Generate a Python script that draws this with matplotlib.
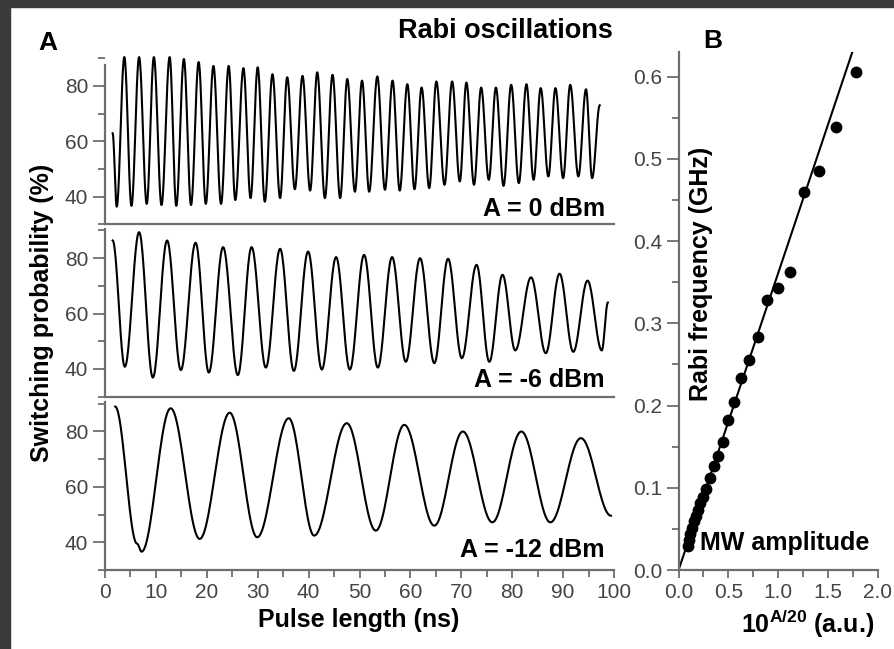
import numpy as np
import matplotlib
matplotlib.use("Agg")
import matplotlib.pyplot as plt
from matplotlib.ticker import MultipleLocator, FormatStrFormatter
from matplotlib.patches import Rectangle

plt.rcParams['font.family'] = ['Liberation Sans', 'DejaVu Sans']
plt.rcParams['mathtext.fontset'] = 'custom'
plt.rcParams['mathtext.rm'] = 'Liberation Sans:bold'
plt.rcParams['mathtext.bf'] = 'Liberation Sans:bold'
plt.rcParams['mathtext.it'] = 'Liberation Sans:bold'

# --- panel A: extrema of the Rabi traces (ns, %) ---
t_0dbm = [1.5, 2.3, 3.8, 5.2, 6.7, 8.2, 9.6, 11.1, 12.7, 14.0, 15.5, 16.9, 18.4,
          19.8, 21.3, 22.8, 24.3, 25.6, 27.2, 28.6, 30.0, 31.4, 32.9, 34.4, 35.8,
          37.3, 38.8, 40.3, 41.7, 43.2, 44.7, 46.2, 47.6, 49.1, 50.5, 51.9, 53.5,
          55.0, 56.5, 57.9, 59.4, 60.8, 62.2, 63.7, 65.1, 66.7, 68.2, 69.7, 71.0,
          72.5, 73.9, 75.4, 76.8, 78.3, 79.8, 81.3, 82.8, 84.2, 85.6, 87.1, 88.5,
          90.0, 91.4, 93.0, 94.5, 95.7, 97.2]
p_0dbm = [62.9, 36.4, 90.4, 36.7, 90.4, 37.4, 90.4, 37.0, 90.4, 36.7, 89.7, 37.0, 88.6,
          37.4, 87.2, 37.4, 87.2, 38.8, 86.4, 39.5, 86.7, 38.2, 84.2, 39.5, 83.1,
          42.7, 83.6, 42.2, 84.9, 39.5, 84.0, 39.5, 82.5, 41.8, 81.9, 41.8, 83.4,
          42.5, 81.9, 42.2, 80.6, 42.7, 79.4, 43.1, 81.6, 44.3, 81.6, 45.5, 81.2,
          44.3, 79.4, 46.1, 79.4, 43.9, 80.4, 44.9, 80.6, 46.1, 79.2, 47.3, 79.2,
          46.7, 80.4, 47.3, 78.8, 46.7, 73.0]

t_6dbm = [1.5, 3.9, 6.7, 9.4, 12.2, 14.9, 17.8, 20.4, 23.2, 26.1, 28.8, 31.6, 34.4,
          37.1, 39.9, 42.6, 45.4, 48.1, 50.9, 53.6, 56.4, 59.1, 61.9, 64.7, 67.4,
          70.1, 73.0, 75.5, 78.1, 80.6, 83.7, 86.6, 89.3, 92.0, 94.8, 97.6, 98.8]
p_6dbm = [86.4, 40.8, 89.4, 36.9, 86.4, 39.6, 85.6, 38.7, 84.0, 37.8, 84.0, 40.5, 83.4,
          39.3, 82.4, 39.8, 80.4, 39.8, 81.2, 40.5, 80.4, 42.6, 80.0, 42.1, 79.8,
          43.9, 77.6, 42.6, 74.0, 46.7, 73.1, 45.7, 74.4, 46.2, 71.9, 46.7, 64.0]

t_12dbm = [2.0, 6.3, 7.2, 12.9, 18.6, 24.5, 29.9, 36.1, 41.1, 47.5, 53.2, 58.8,
           64.7, 70.3, 76.1, 81.8, 87.5, 93.5, 99.4]
p_12dbm = [89.0, 39.5, 36.6, 88.4, 41.2, 86.8, 41.8, 84.8, 42.4, 83.0, 44.2, 82.4,
           46.0, 80.0, 47.2, 80.0, 47.2, 77.6, 49.6]

trace_labels = ['A = 0 dBm', 'A = -6 dBm', 'A = -12 dBm']

# --- panel B: Rabi frequency vs 10^(A/20) ---
amp = [1.778, 1.580, 1.409, 1.258, 1.117, 1.000, 0.889, 0.802, 0.708, 0.627, 0.560,
       0.493, 0.446, 0.396, 0.352, 0.312, 0.279, 0.245, 0.218, 0.195, 0.171, 0.151,
       0.131, 0.117, 0.104, 0.094]
rabi_f = [0.606, 0.539, 0.485, 0.460, 0.362, 0.343, 0.328, 0.284, 0.255, 0.234, 0.204,
          0.182, 0.156, 0.139, 0.127, 0.112, 0.099, 0.089, 0.081, 0.073, 0.066, 0.059,
          0.051, 0.044, 0.036, 0.029]
fit_x = [0.0, 1.745]
fit_y = [0.0, 0.630]

W, H = 895, 649
SPINE = '#6e6e6e'
TICKTXT = '#444444'


def smooth_trace(t_pts, v_pts, n=24):
    # join successive extrema with half-cosine arcs
    ts, vs = [], []
    for i in range(len(t_pts) - 1):
        s = np.linspace(0, 1, n, endpoint=False)
        w = (1 - np.cos(np.pi * s)) / 2
        ts.append(t_pts[i] + (t_pts[i + 1] - t_pts[i]) * s)
        vs.append(v_pts[i] + (v_pts[i + 1] - v_pts[i]) * w)
    ts.append([t_pts[-1]])
    vs.append([v_pts[-1]])
    return np.concatenate(ts), np.concatenate(vs)


def px(x, y):
    return x / W, 1 - y / H


def style_axis(ax):
    for side in ['top', 'right']:
        ax.spines[side].set_visible(False)
    for side in ['left', 'bottom']:
        ax.spines[side].set_color(SPINE)
        ax.spines[side].set_linewidth(1.6)
    ax.tick_params(axis='both', which='both', colors=SPINE, labelcolor=TICKTXT,
                   labelsize=15, width=1.3)
    ax.tick_params(axis='y', which='major', length=9, pad=3)
    ax.tick_params(axis='y', which='minor', length=5)
    ax.tick_params(axis='x', which='major', length=6, pad=3)
    ax.tick_params(axis='x', which='minor', length=5)
    ax.patch.set_alpha(0)


fig = plt.figure(figsize=(W / 100, H / 100), dpi=100)
fig.patch.set_facecolor('white')
fig.add_artist(Rectangle((0, 0), 10 / W, 1, transform=fig.transFigure,
                         color='#3b3b3b', zorder=-10))
fig.add_artist(Rectangle((0, 1 - 7 / H), 1, 7 / H, transform=fig.transFigure,
                         color='#3b3b3b', zorder=-10))

# panel A, three stacked axes
a_left, a_width = 105 / W, 509 / W
a_height = 167.6 / H
bottoms = [224.4, 396.7, 570.0]
traces = [(t_0dbm, p_0dbm), (t_6dbm, p_6dbm), (t_12dbm, p_12dbm)]
label_base = [216, 387, 557]

axes_a = []
for i, (tt, pp) in enumerate(traces):
    ax = fig.add_axes([a_left, 1 - bottoms[i] / H, a_width, a_height])
    style_axis(ax)
    xs, ys = smooth_trace(tt, pp)
    ax.plot(xs, ys, color='black', lw=1.5, clip_on=False)
    ax.set_xlim(0, 100)
    ax.set_ylim(30, 90.5)
    ax.yaxis.set_minor_locator(MultipleLocator(10))
    ax.set_yticks([40, 60, 80])
    ax.xaxis.set_major_locator(MultipleLocator(10))
    ax.xaxis.set_minor_locator(MultipleLocator(5))
    if i < 2:
        ax.tick_params(axis='x', which='both', length=0, labelbottom=False)
    fig.text(*px(605, label_base[i]), trace_labels[i], ha='right', va='baseline',
             fontsize=18, fontweight='bold')
    axes_a.append(ax)
axes_a[0].spines['left'].set_bounds(30, 87.5)

fig.text(*px(42, 313), 'Switching probability (%)', rotation=90, ha='center',
         va='center', fontsize=18, fontweight='bold')
fig.text(*px(359, 620), 'Pulse length (ns)', ha='center', va='center',
         fontsize=18, fontweight='bold')
fig.text(*px(48, 43), 'A', ha='center', va='center', fontsize=19, fontweight='bold')
fig.text(*px(613, 31), 'Rabi oscillations', ha='right', va='center',
         fontsize=19.5, fontweight='bold')

# panel B
axb = fig.add_axes([678.6 / W, 1 - 570 / H, 199.1 / W, 517.9 / H])
style_axis(axb)
axb.plot(fit_x, fit_y, color='black', lw=1.5)
axb.plot(amp, rabi_f, 'o', color='black', ms=7.5)
axb.set_xlim(0, 2.0)
axb.set_ylim(0, 0.63)
axb.xaxis.set_major_locator(MultipleLocator(0.5))
axb.xaxis.set_minor_locator(MultipleLocator(0.25))
axb.yaxis.set_major_locator(MultipleLocator(0.1))
axb.yaxis.set_minor_locator(MultipleLocator(0.05))
axb.xaxis.set_major_formatter(FormatStrFormatter('%.1f'))
axb.yaxis.set_major_formatter(FormatStrFormatter('%.1f'))
axb.tick_params(axis='x', which='major', pad=3)

fig.text(*px(701, 274), 'Rabi frequency (GHz)', rotation=90, ha='center',
         va='center', fontsize=18, fontweight='bold')
fig.text(*px(700, 543), 'MW amplitude', ha='left', va='center', fontsize=18,
         fontweight='bold')
fig.text(*px(808, 624), r'10$^{A/20}$ (a.u.)', ha='center', va='center',
         fontsize=18, fontweight='bold')
fig.text(*px(713, 41), 'B', ha='center', va='center', fontsize=19, fontweight='bold')

fig.savefig('out.png', dpi=100)
